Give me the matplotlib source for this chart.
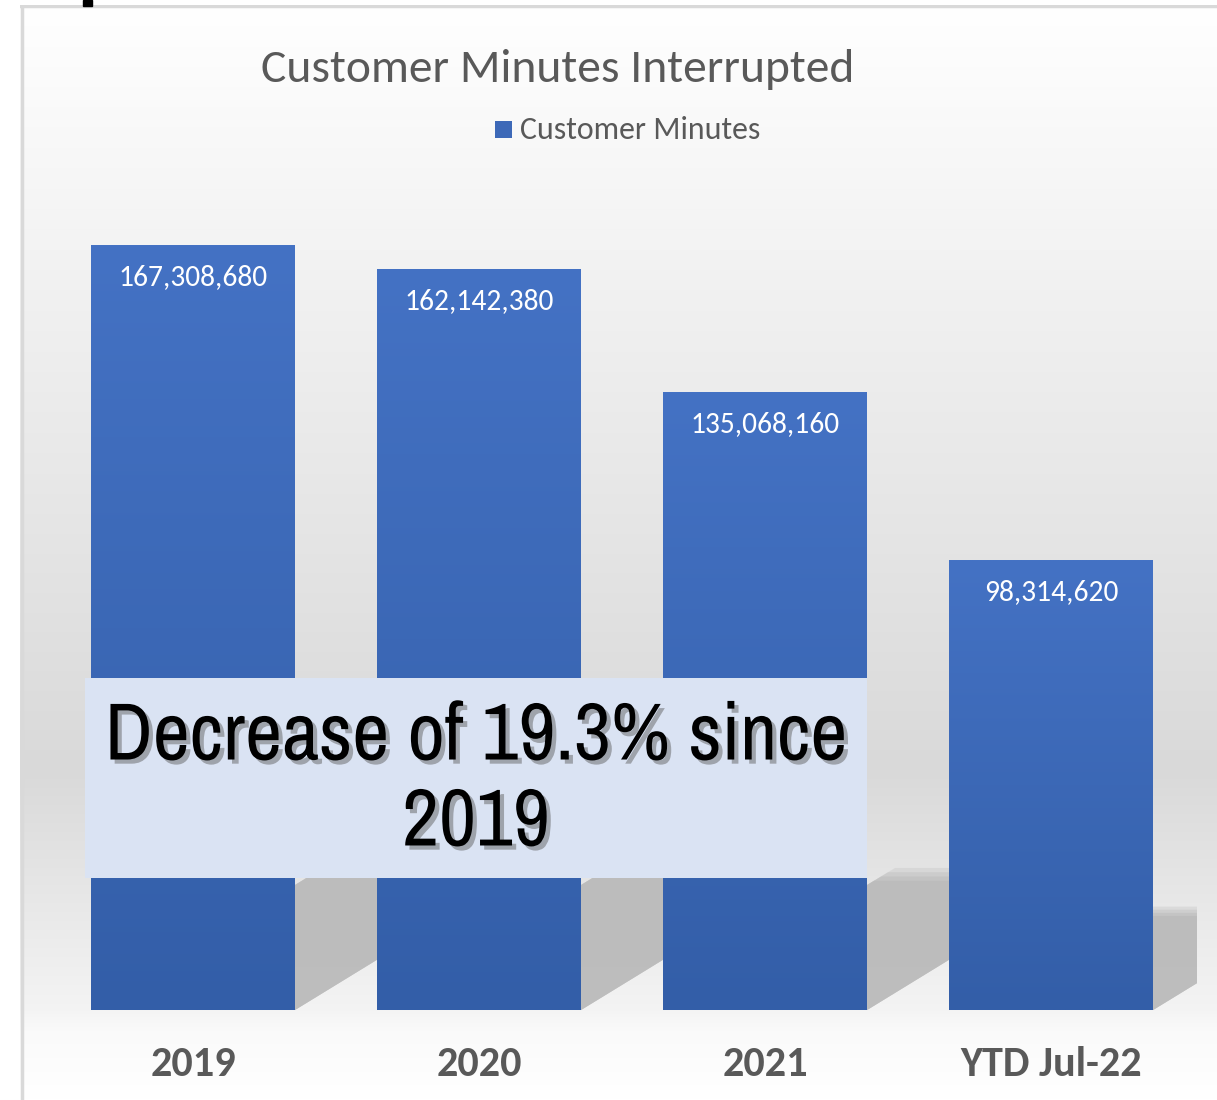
import numpy as np
import matplotlib
matplotlib.use("Agg")
import matplotlib.pyplot as plt
from matplotlib.patches import Rectangle, Polygon
from matplotlib.colors import LinearSegmentedColormap
from matplotlib import font_manager as fm
import matplotlib.patheffects as pe

categories = ["2019", "2020", "2021", "YTD Jul-22"]
values = [167308680, 162142380, 135068160, 98314620]
series_name = "Customer Minutes"
title = "Customer Minutes Interrupted"
note = "Decrease of 19.3% since\n2019"

installed = {f.name for f in fm.fontManager.ttflist}

def pick(prefs):
    for p in prefs:
        if p in installed:
            return [p, "DejaVu Sans"]
    return ["DejaVu Sans"]

calibri = pick(["Carlito", "Calibri", "Open Sans", "Lato"])
narrow = pick(["Liberation Sans Narrow", "Arial Narrow", "Nimbus Sans Narrow", "Archivo Narrow",
               "Roboto Condensed", "PT Sans Narrow", "IBM Plex Sans Condensed"])

W, H = 1217, 1100
fig = plt.figure(figsize=(W / 100, H / 100), dpi=100)
fig.patch.set_facecolor("white")
renderer = fig.canvas.get_renderer()

def fit(t, target_w):
    bb = t.get_window_extent(renderer=renderer)
    t.set_fontsize(t.get_fontsize() * target_w / bb.width)

def fx(px):
    return px / W

def fy(py):
    return 1 - py / H

# background panel with vertical gradient
bg = fig.add_axes([fx(20), 0, 1 - fx(20), fy(5)])
bg.set_xlim(0, 1)
bg.set_ylim(1100, 5)
bg.axis("off")
stops_y = [5, 150, 514, 770, 938, 1010, 1030, 1100]
stops_v = [1.0, 0.972, 0.902, 0.851, 0.925, 0.955, 0.98, 1.0]
yy = np.linspace(5, 1100, 600)
vv = np.interp(yy, stops_y, stops_v)
img = np.repeat(vv[:, None], 2, axis=1)
bg.imshow(np.dstack([img, img, img]), extent=(0, 1, 1100, 5), aspect="auto", zorder=0)
bg.plot([0.0015, 0.0015], [5, 1100], color="#d9d9d9", lw=2.5, zorder=1)
bg.plot([0, 1], [6, 6], color="#d9d9d9", lw=2.5, zorder=1)

# small clipped black fragment at top-left
fig.patches.append(Rectangle((fx(83), fy(6)), fx(9), 6 / H, transform=fig.transFigure,
                             color="black", zorder=5))

# main axes
left_px, right_px = 50, 1197
base_px, top_px = 1010, 187
ax = fig.add_axes([fx(left_px), fy(base_px), fx(right_px - left_px), (base_px - top_px) / H])
ax.patch.set_alpha(0)
for s in ax.spines.values():
    s.set_visible(False)
ax.set_yticks([])

x = np.arange(len(categories))
bw = 0.713
bar_cmap = LinearSegmentedColormap.from_list("b", ["#335ea8", "#4472c4"])
grad = np.linspace(0, 1, 256)[:, None]

bars = ax.bar(x, values, width=bw, color="#3c68b6", zorder=3)
labels = []
for b, v in zip(bars, values):
    x0 = b.get_x()
    x1 = x0 + b.get_width()
    # cast shadow on floor
    sh = 0.23 * v
    dx = v * 6.0e-9
    for grow, a in [(1.0, 0.3), (0.97, 0.4), (0.94, 0.5), (0.91, 0.9)]:
        poly = Polygon([(x0, 0), (x1, 0), (x1 + dx * grow, sh * grow), (x0 + dx * grow, sh * grow)],
                       closed=True, facecolor="#bcbcbc", edgecolor="none", alpha=a, zorder=1)
        ax.add_patch(poly)
    im = ax.imshow(grad, extent=(x0, x1, 0, v), origin="lower", cmap=bar_cmap,
                   aspect="auto", zorder=4)
    im.set_clip_path(b)
    t = ax.annotate(f"{v:,}", (b.get_x() + b.get_width() / 2, v), xytext=(0, -23),
                    textcoords="offset points", ha="center", va="center", color="white",
                    fontsize=20, family=calibri, zorder=6)
    labels.append(t)
ax.set_xlim(-0.5, 3.51)
ax.set_ylim(0, 180000000)

ax.set_xticks(x)
ax.set_xticklabels(categories, fontsize=32, fontweight="bold", color="#595959", family=calibri)
ax.tick_params(axis="x", length=0, pad=26)

# title and legend
tt = fig.text(fx(558), fy(69), title, ha="center", va="center", fontsize=34,
              color="#595959", family=calibri)
fig.patches.append(Rectangle((fx(495), fy(138)), fx(17), 17 / H, transform=fig.transFigure,
                             facecolor="#3d69b8", edgecolor="none", zorder=5))
lt = fig.text(fx(520), fy(130), series_name, ha="left", va="center", fontsize=22.5,
              color="#595959", family=calibri)

# annotation box
fig.patches.append(Rectangle((fx(85), fy(878)), fx(867 - 85), 200 / H, transform=fig.transFigure,
                             facecolor="#dae3f3", edgecolor="none", zorder=10))
nt = fig.text(fx(476), fy(780), note, ha="center", va="center", fontsize=54, fontweight="bold",
              color="black", family=narrow, linespacing=1.22, zorder=11,
              path_effects=[pe.withSimplePatchShadow(offset=(3, -3), shadow_rgbFace="#555555", alpha=0.45)])

# match text widths to the reference
fit(tt, 593)
fit(lt, 240)
fit(nt, 743)
fit(labels[0], 150)
for t in labels[1:]:
    t.set_fontsize(labels[0].get_fontsize())
fig.canvas.draw()
tl = ax.get_xticklabels()
bb = tl[3].get_window_extent(renderer=renderer)
fs = tl[3].get_fontsize() * 182 / bb.width
for t in tl:
    t.set_fontsize(fs)

fig.savefig("out.png", dpi=100)
